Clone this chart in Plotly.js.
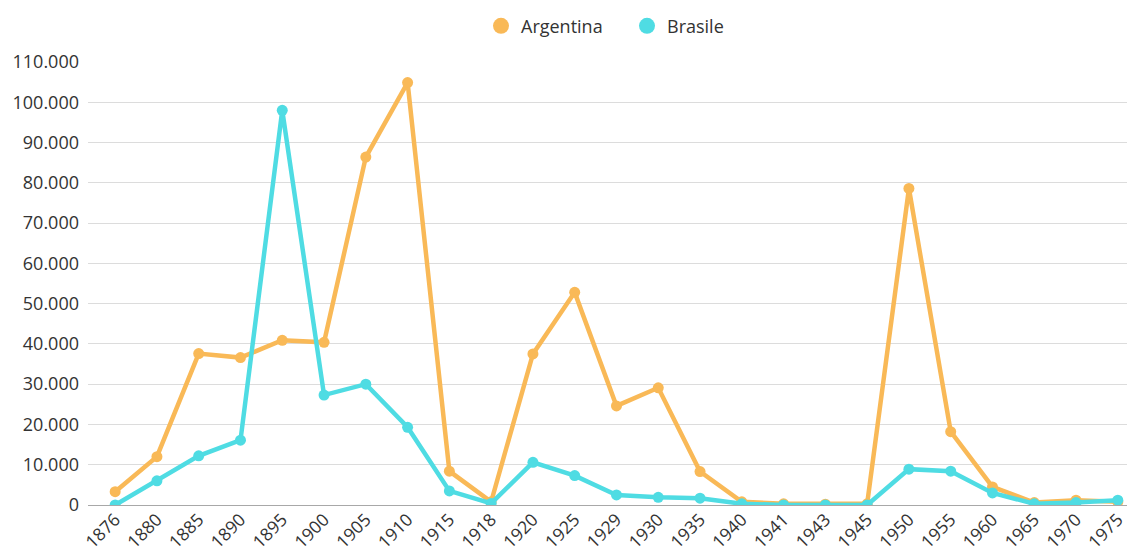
<!DOCTYPE html>
<html>
<head>
<meta charset="utf-8">
<script src="https://cdn.plot.ly/plotly-3.0.1.min.js"></script>
<style>html,body{margin:0;padding:0;background:#fff;}#chart{width:1127px;height:557px;}</style>
</head>
<body>
<div id="chart"></div>
<script>
const years = ['1876','1880','1885','1890','1895','1900','1905','1910','1915','1918','1920','1925','1929','1930','1935','1940','1941','1943','1945','1950','1955','1960','1965','1970','1975'];
const argentina = [3300,12000,37600,36600,40900,40400,86400,104900,8400,800,37500,52800,24600,29100,8300,800,300,200,300,78600,18200,4500,600,1200,800];
const brasile = [0,6000,12200,16100,98000,27300,30000,19300,3500,400,10600,7300,2500,1900,1700,300,0,0,0,8900,8400,3000,300,600,1200];

const orange = '#F9B957';
const cyan = '#4FDCE3';

const traces = [
  {x: years, y: argentina, name: 'Argentina', type: 'scatter', mode: 'lines+markers',
   line: {color: orange, width: 4.5}, marker: {color: orange, size: 11}, showlegend: false},
  {x: years, y: brasile, name: 'Brasile', type: 'scatter', mode: 'lines+markers',
   line: {color: cyan, width: 4.5}, marker: {color: cyan, size: 11}, showlegend: false},
  {x: [null], y: [null], name: 'Argentina', type: 'scatter', mode: 'markers',
   marker: {color: orange, size: 16}, showlegend: true},
  {x: [null], y: [null], name: 'Brasile', type: 'scatter', mode: 'markers',
   marker: {color: cyan, size: 16}, showlegend: true}
];

const layout = {
  width: 1127, height: 557,
  margin: {l: 88, r: 0, t: 62, b: 52},
  paper_bgcolor: '#fff', plot_bgcolor: '#fff',
  separators: ',.',
  font: {family: 'Open Sans, sans-serif', size: 18, color: '#333333'},
  showlegend: true,
  legend: {orientation: 'h', x: (481 - 88) / 1039, xanchor: 'left', y: 1.081, yanchor: 'middle',
           font: {size: 18, color: '#333333'}, itemwidth: 30, traceorder: 'normal',
           entrywidth: 101, entrywidthmode: 'pixels'},
  xaxis: {type: 'category', range: [-0.65, 24.22], tickangle: -45, showgrid: false,
          zeroline: false, showline: false, ticks: '', automargin: false,
          tickfont: {size: 17.5, color: '#333333'}},
  yaxis: {range: [0, 110000], dtick: 10000, tick0: 0, tickformat: ',d',
          gridcolor: '#dcdcdc', gridwidth: 1, zeroline: true, zerolinecolor: '#a8a8a8',
          zerolinewidth: 1, showline: false, ticks: '', automargin: false,
          ticklabelstandoff: 8, tickfont: {size: 18, color: '#333333'}}
};

Plotly.newPlot('chart', traces, layout, {displayModeBar: false, staticPlot: true});
</script>
</body>
</html>
